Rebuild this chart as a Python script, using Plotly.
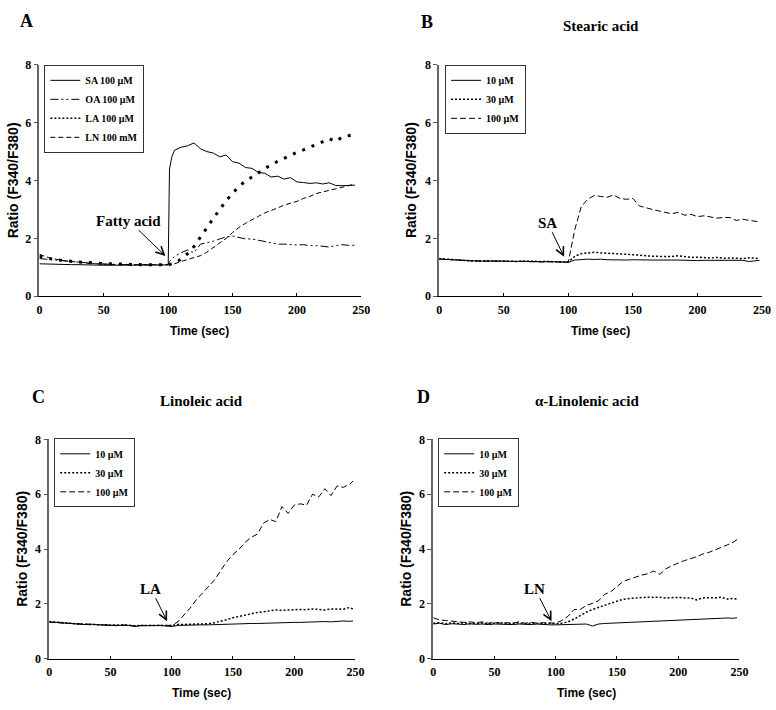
import plotly.graph_objects as go

# ---------------- data ----------------
t_A = [0, 5, 10, 15, 20, 25, 30, 35, 40, 45, 50, 55, 60, 65, 70, 75, 80, 85, 90, 95, 100,
       101, 103,
       105, 110, 115, 120, 125, 130, 135, 140, 145, 150, 155, 160, 165, 170, 175, 180, 185,
       190, 195, 200, 205, 210, 215, 220, 225, 230, 235, 240, 245]

A_SA = [1.12, 1.11, 1.10, 1.10, 1.10, 1.09, 1.09, 1.08, 1.08, 1.08, 1.07, 1.07, 1.07, 1.07, 1.07, 1.06, 1.07, 1.06, 1.06, 1.06, 1.08,
        4.40, 4.85,
        5.05, 5.15, 5.20, 5.30, 5.10, 5.00, 4.95, 4.82, 4.88, 4.65, 4.60, 4.45, 4.42, 4.28, 4.25, 4.12, 4.15,
        4.05, 4.10, 3.95, 3.93, 3.90, 3.92, 3.88, 3.92, 3.83, 3.82, 3.83, 3.84]
A_OA = [1.30, 1.28, 1.25, 1.22, 1.20, 1.18, 1.16, 1.15, 1.13, 1.12, 1.11, 1.10, 1.10, 1.09, 1.09, 1.09, 1.08, 1.08, 1.08, 1.08, 1.10,
        1.20, 1.30,
        1.38, 1.50, 1.60, 1.50, 1.80, 1.85, 1.90, 1.98, 2.05, 2.08, 2.02, 1.98, 1.98, 1.93, 1.90, 1.85, 1.80,
        1.80, 1.78, 1.77, 1.78, 1.75, 1.75, 1.72, 1.70, 1.75, 1.78, 1.76, 1.76]
A_LA = [1.38, 1.32, 1.28, 1.25, 1.22, 1.20, 1.18, 1.17, 1.15, 1.15, 1.13, 1.12, 1.11, 1.10, 1.10, 1.09, 1.09, 1.09, 1.08, 1.08, 1.08,
        1.09, 1.11,
        1.15, 1.28, 1.47, 1.72, 2.02, 2.36, 2.69, 3.00, 3.30, 3.56, 3.80, 3.98, 4.12, 4.28, 4.43, 4.55, 4.66,
        4.77, 4.88, 4.98, 5.06, 5.15, 5.26, 5.34, 5.45, 5.35, 5.50, 5.56, 5.60]
A_LN = [1.45, 1.36, 1.30, 1.25, 1.22, 1.20, 1.17, 1.15, 1.13, 1.12, 1.10, 1.10, 1.09, 1.09, 1.08, 1.08, 1.08, 1.07, 1.07, 1.07, 1.08,
        1.09, 1.10,
        1.12, 1.20, 1.27, 1.32, 1.40, 1.52, 1.67, 1.82, 2.00, 2.20, 2.38, 2.52, 2.65, 2.76, 2.88, 2.96, 3.05,
        3.15, 3.22, 3.28, 3.38, 3.45, 3.55, 3.60, 3.66, 3.72, 3.77, 3.82, 3.88]

t_BCD = [0, 5, 10, 15, 20, 25, 30, 35, 40, 45, 50, 55, 60, 65, 70, 75, 80, 85, 90, 95, 100,
         105, 110, 115, 120, 125, 130, 135, 140, 145, 150, 155, 160, 165, 170, 175, 180, 185,
         190, 195, 200, 205, 210, 215, 220, 225, 230, 235, 240, 245, 248]

B_10 = [1.28, 1.27, 1.25, 1.24, 1.23, 1.22, 1.21, 1.21, 1.22, 1.21, 1.20, 1.21, 1.20, 1.21, 1.20, 1.20, 1.19, 1.20, 1.19, 1.18, 1.17,
        1.25, 1.27, 1.28, 1.27, 1.28, 1.26, 1.25, 1.26, 1.25, 1.26, 1.25, 1.26, 1.25, 1.25, 1.26, 1.25, 1.25,
        1.24, 1.25, 1.23, 1.24, 1.24, 1.23, 1.24, 1.23, 1.22, 1.24, 1.20, 1.24, 1.24]
B_30 = [1.30, 1.28, 1.26, 1.25, 1.23, 1.22, 1.22, 1.21, 1.22, 1.22, 1.21, 1.21, 1.20, 1.21, 1.21, 1.20, 1.20, 1.20, 1.19, 1.19, 1.18,
        1.38, 1.47, 1.50, 1.52, 1.50, 1.48, 1.47, 1.46, 1.45, 1.44, 1.42, 1.40, 1.38, 1.37, 1.36, 1.37, 1.40,
        1.36, 1.34, 1.35, 1.33, 1.32, 1.34, 1.31, 1.32, 1.30, 1.30, 1.33, 1.30, 1.30]
B_100 = [1.29, 1.27, 1.26, 1.24, 1.23, 1.22, 1.22, 1.21, 1.21, 1.21, 1.20, 1.20, 1.20, 1.20, 1.19, 1.19, 1.19, 1.19, 1.19, 1.18, 1.18,
         2.30, 3.10, 3.35, 3.48, 3.45, 3.42, 3.50, 3.38, 3.35, 3.38, 3.12, 3.05, 3.00, 2.95, 2.90, 2.85, 2.90,
         2.80, 2.83, 2.75, 2.78, 2.75, 2.70, 2.72, 2.72, 2.62, 2.66, 2.62, 2.60, 2.57]

C_10 = [1.35, 1.33, 1.30, 1.28, 1.27, 1.26, 1.25, 1.26, 1.24, 1.23, 1.22, 1.21, 1.23, 1.22, 1.18, 1.21, 1.21, 1.22, 1.22, 1.20, 1.18,
        1.22, 1.23, 1.23, 1.23, 1.24, 1.24, 1.25, 1.25, 1.26, 1.27, 1.28, 1.28, 1.29, 1.29, 1.30, 1.31, 1.32,
        1.32, 1.33, 1.33, 1.33, 1.34, 1.35, 1.35, 1.36, 1.35, 1.37, 1.38, 1.37, 1.38]
C_30 = [1.36, 1.34, 1.31, 1.29, 1.28, 1.27, 1.26, 1.26, 1.25, 1.24, 1.23, 1.22, 1.23, 1.23, 1.20, 1.22, 1.22, 1.23, 1.23, 1.22, 1.22,
        1.25, 1.26, 1.26, 1.26, 1.27, 1.28, 1.32, 1.37, 1.43, 1.50, 1.55, 1.60, 1.65, 1.69, 1.72, 1.75, 1.78,
        1.77, 1.78, 1.80, 1.80, 1.79, 1.82, 1.80, 1.78, 1.82, 1.82, 1.81, 1.87, 1.82]
C_100 = [1.33, 1.32, 1.30, 1.28, 1.27, 1.27, 1.26, 1.25, 1.24, 1.24, 1.23, 1.22, 1.23, 1.22, 1.20, 1.22, 1.22, 1.23, 1.22, 1.22, 1.22,
         1.35, 1.60, 1.85, 2.15, 2.40, 2.62, 2.88, 3.22, 3.55, 3.80, 4.00, 4.25, 4.43, 4.55, 4.95, 5.08, 5.00,
         5.55, 5.30, 5.60, 5.65, 5.60, 6.00, 5.90, 6.20, 5.95, 6.30, 6.25, 6.35, 6.48]

D_10 = [1.27, 1.30, 1.25, 1.28, 1.27, 1.25, 1.28, 1.26, 1.27, 1.25, 1.27, 1.26, 1.26, 1.25, 1.27, 1.26, 1.25, 1.27, 1.25, 1.24, 1.24,
        1.25, 1.26, 1.27, 1.28, 1.27, 1.20, 1.27, 1.29, 1.30, 1.31, 1.32, 1.33, 1.35, 1.36, 1.37, 1.38, 1.39,
        1.40, 1.41, 1.42, 1.43, 1.44, 1.45, 1.45, 1.46, 1.46, 1.47, 1.49, 1.48, 1.50]
D_30 = [1.30, 1.32, 1.28, 1.31, 1.29, 1.32, 1.28, 1.30, 1.31, 1.28, 1.30, 1.32, 1.28, 1.30, 1.31, 1.28, 1.30, 1.29, 1.28, 1.30, 1.28,
        1.30, 1.35, 1.45, 1.58, 1.70, 1.80, 1.88, 1.97, 2.03, 2.10, 2.17, 2.20, 2.22, 2.24, 2.25, 2.24, 2.25,
        2.22, 2.23, 2.24, 2.22, 2.22, 2.15, 2.22, 2.23, 2.22, 2.25, 2.18, 2.20, 2.18]
D_100 = [1.50, 1.42, 1.40, 1.38, 1.35, 1.33, 1.35, 1.32, 1.35, 1.30, 1.33, 1.30, 1.32, 1.30, 1.35, 1.30, 1.33, 1.30, 1.32, 1.30, 1.30,
         1.40, 1.55, 1.80, 1.80, 1.95, 2.02, 2.12, 2.35, 2.45, 2.65, 2.82, 2.90, 2.98, 3.05, 3.10, 3.20, 3.08,
         3.28, 3.40, 3.50, 3.58, 3.65, 3.72, 3.82, 3.88, 3.97, 4.05, 4.15, 4.25, 4.35]

legend_A = ["SA 100 µM", "OA 100 µM", "LA 100 µM", "LN 100 mM"]
legend_conc = ["10 µM", "30 µM", "100 µM"]
panel_letters = ["A", "B", "C", "D"]
panel_titles = ["", "Stearic acid", "Linoleic acid", "α-Linolenic acid"]
arrow_labels = ["Fatty acid", "SA", "LA", "LN"]
x_ticks = [0, 50, 100, 150, 200, 250]
y_ticks = [0, 2, 4, 6, 8]

# ---------------- styling ----------------
SERIF = "Liberation Serif"
SANS = "Liberation Sans"
W, H = 776, 710

def px_x(p):
    return p / W

def px_y(p):
    return 1 - p / H

# axis domains in page pixels: (x0, x1, ytop, ybottom)
dom = {
    1: (37, 364, 59, 295),
    2: (443, 771, 59, 295),
    3: (47, 358, 441, 665),
    4: (437, 748, 441, 665),
}

fig = go.Figure()

def add(panel, x, y, name, dash, width=1.0, legend="legend", showlegend=True):
    sfx = "" if panel == 1 else str(panel)
    fig.add_trace(go.Scatter(
        x=x, y=y, name=name, mode="lines",
        line=dict(color="black", width=width, dash=dash),
        xaxis="x" + sfx, yaxis="y" + sfx,
        legend=legend, showlegend=showlegend, hoverinfo="skip"))

SOLID = "solid"
DOT = "2px,2px"
DASH = "6px,3px"
DASHDOTDOT = "8px,3px,2px,3px,2px,3px"

# Panel A
add(1, t_A, A_SA, legend_A[0], SOLID)
add(1, t_A, A_OA, legend_A[1], DASHDOTDOT)
add(1, t_A, A_LA, legend_A[2], "3px,7px", width=3, showlegend=False)
fig.add_trace(go.Scatter(x=[None], y=[None], name=legend_A[2], mode="lines",
                         line=dict(color="black", width=1.5, dash=DOT),
                         legend="legend", xaxis="x", yaxis="y"))
add(1, t_A, A_LN, legend_A[3], "5px,3px")

for panel, series, lg in [(2, [B_10, B_30, B_100], "legend2"),
                          (3, [C_10, C_30, C_100], "legend3"),
                          (4, [D_10, D_30, D_100], "legend4")]:
    add(panel, t_BCD, series[0], legend_conc[0], SOLID, legend=lg)
    add(panel, t_BCD, series[1], legend_conc[1], DOT, width=1.5, legend=lg)
    add(panel, t_BCD, series[2], legend_conc[2], DASH, legend=lg)

layout = dict(
    width=W, height=H,
    margin=dict(l=0, r=0, t=0, b=0),
    paper_bgcolor="white", plot_bgcolor="white",
    showlegend=True,
    font=dict(family=SERIF, color="black"),
)

tickfont = dict(family=SERIF, size=12, color="black", weight="bold")
for i, (x0, x1, yt, yb) in dom.items():
    sfx = "" if i == 1 else str(i)
    layout["xaxis" + sfx] = dict(
        domain=[px_x(x0), px_x(x1)], range=[0, 250], anchor="y" + sfx,
        tickvals=x_ticks, ticks="inside", ticklen=3, tickcolor="black",
        showline=True, linecolor="black", linewidth=1,
        showgrid=False, zeroline=False, tickfont=tickfont,
        ticklabelstandoff=2, fixedrange=True)
    layout["yaxis" + sfx] = dict(
        domain=[px_y(yb), px_y(yt)], range=[0, 8], anchor="x" + sfx,
        tickvals=y_ticks, ticks="outside", ticklen=4, tickcolor="#555",
        showline=True, linecolor="#666", linewidth=1.5,
        showgrid=False, zeroline=False, tickfont=tickfont, fixedrange=True)

legfont = dict(family=SERIF, size=10, color="black", weight="bold")
legpos = {"legend": (42, 59), "legend2": (449, 59), "legend3": (52, 440), "legend4": (442, 440)}
for key, (lx, ly) in legpos.items():
    layout[key] = dict(x=px_x(lx), y=px_y(ly), xanchor="left", yanchor="top",
                       bgcolor="white", bordercolor="#333", borderwidth=1,
                       font=legfont, itemwidth=30, tracegroupgap=0)

fig.update_layout(**layout)

annotations = []
# panel letters and titles
letter_pos = [(24, 14), (431, 15), (36, 398), (427, 398)]
title_pos = [(200, 19), (607, 19), (202, 402), (593, 402)]
for i in range(4):
    annotations.append(dict(text=panel_letters[i], x=px_x(letter_pos[i][0]), y=px_y(letter_pos[i][1]),
                            xref="paper", yref="paper", showarrow=False, xanchor="center", yanchor="middle",
                            font=dict(family=SERIF, size=18, color="black", weight="bold")))
    if panel_titles[i]:
        annotations.append(dict(text=panel_titles[i], x=px_x(title_pos[i][0]), y=px_y(title_pos[i][1]),
                                xref="paper", yref="paper", showarrow=False, xanchor="center", yanchor="middle",
                                font=dict(family=SERIF, size=15, color="black", weight="bold")))

# axis titles
xt_pos = [(200, 331), (607, 331), (202, 700), (593, 700)]
yt_pos = [(10, 177), (414, 177), (19, 553), (409, 553)]
for i in range(4):
    annotations.append(dict(text="Time (sec)", x=px_x(xt_pos[i][0]), y=px_y(xt_pos[i][1]),
                            xref="paper", yref="paper", showarrow=False, xanchor="center", yanchor="middle",
                            font=dict(family=SANS, size=12, color="black", weight="bold")))
    annotations.append(dict(text="Ratio (F340/F380)", x=px_x(yt_pos[i][0]), y=px_y(yt_pos[i][1]),
                            xref="paper", yref="paper", showarrow=False, xanchor="center", yanchor="middle",
                            textangle=-90,
                            font=dict(family=SANS, size=14, color="black", weight="bold")))

# arrow annotations (data coordinates): text centre and arrow head
arrow_text_xy = [(69.5, 2.61), (84, 2.54), (83, 2.56), (83, 2.56)]
arrow_head_xy = [(97.8, 1.39), (96.7, 1.36), (96.2, 1.37), (96.6, 1.37)]
for i in range(4):
    sfx = "" if i == 0 else str(i + 1)
    annotations.append(dict(
        text=arrow_labels[i], x=arrow_head_xy[i][0], y=arrow_head_xy[i][1],
        ax=arrow_text_xy[i][0], ay=arrow_text_xy[i][1],
        xref="x" + sfx, yref="y" + sfx, axref="x" + sfx, ayref="y" + sfx,
        showarrow=True, arrowhead=5, arrowsize=1.6, arrowwidth=1, arrowcolor="black",
        font=dict(family=SERIF, size=15, color="black", weight="bold")))

fig.update_layout(annotations=annotations)

# remove the default page margin so the 776x710 figure fills the window exactly
fig.write_html(
    "out.html",
    config={"displayModeBar": False},
    post_script="document.documentElement.style.margin='0';document.documentElement.style.padding='0';"
                "document.body.style.margin='0';document.body.style.padding='0';"
                "document.body.style.overflow='hidden';",
)
